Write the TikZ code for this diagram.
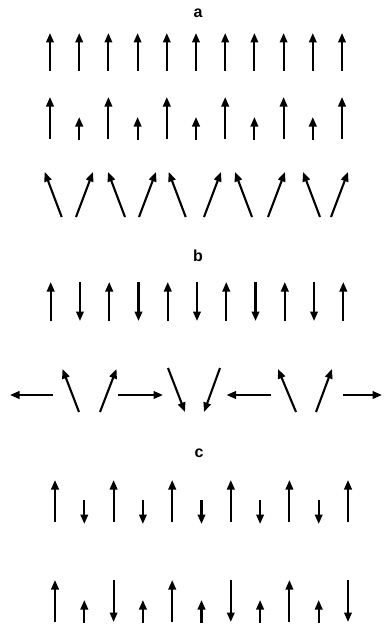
\documentclass[tikz,border=0pt]{standalone}
\usepackage{fontspec}
\setmainfont{Liberation Sans}
\usetikzlibrary{arrows.meta}

\begin{document}
\begin{tikzpicture}[x=1pt,y=-1pt,>={Triangle[length=9.5pt,width=7.5pt]},
  spin/.style={line width=2.1pt,->},
  lab/.style={font=\fontsize{16}{16}\selectfont\bfseries}]

\useasboundingbox (0,0) rectangle (383,626);

% --- Label
\node[lab] (la) at (198,13) {a};
\node[lab] (lb) at (198,256) {b};
\node[lab] (lc) at (199,453) {c};

% --- a: ferro
\foreach \i in {0,...,10}
  \draw[spin] ({50+29.2*\i},71) -- ({50+29.2*\i},33);

% --- a: ferri
\foreach \i in {0,2,...,10}
  \draw[spin] ({50+29.2*\i},139) -- ({50+29.2*\i},97);
\foreach \i in {1,3,...,9}
  \draw[spin] ({50+29.2*\i},140) -- ({50+29.2*\i},117);

% --- a: canted
\foreach \t in {61.7,125,185.7,252,320}
  \draw[spin] (\t,217) -- (\t-17,172);
\foreach \t in {76,139,204,268,331}
  \draw[spin] (\t,217) -- (\t+17,172);

% --- b: antiferro
\foreach \i in {0,2,...,10}
  \draw[spin] ({50.7+29.26*\i},321) -- ({50.7+29.26*\i},282);
\foreach \i in {1,3,...,9}
  \draw[spin] ({50.7+29.26*\i},282) -- ({50.7+29.26*\i},321);

% --- b: spirale
\draw[spin] (52.7,395) -- (10,395);
\draw[spin] (79,412) -- (62.5,369);
\draw[spin] (100,412) -- (116.5,369);
\draw[spin] (118,395) -- (163,395);
\draw[spin] (168,368) -- (185,412);
\draw[spin] (220,368) -- (204,412);
\draw[spin] (270.7,395) -- (226.5,395);
\draw[spin] (296,412) -- (278,369);
\draw[spin] (316,412) -- (332,369);
\draw[spin] (343,395) -- (382,395);

% --- c: ferri antiparallelo
\foreach \i in {0,2,...,10}
  \draw[spin] ({55+29.3*\i},522) -- ({55+29.3*\i},480);
\foreach \i in {1,3,...,9}
  \draw[spin] ({55+29.3*\i},500) -- ({55+29.3*\i},524);

% --- c: onda
\foreach \i in {0,4,8}
  \draw[spin] ({55+29.3*\i},622) -- ({55+29.3*\i},580);
\foreach \i in {2,6,10}
  \draw[spin] ({55+29.3*\i},580) -- ({55+29.3*\i},622);
\foreach \i in {1,3,...,9}
  \draw[spin] ({55+29.3*\i},623) -- ({55+29.3*\i},600);

\end{tikzpicture}
\end{document}
